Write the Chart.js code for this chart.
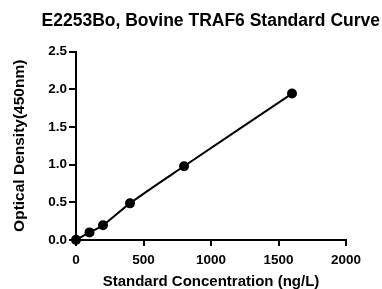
<!DOCTYPE html>
<html>
<head>
<meta charset="utf-8">
<script src="https://cdn.jsdelivr.net/npm/chart.js@4"></script>
<style>
html,body{margin:0;padding:0;background:#fff;}
#wrap{width:382px;height:289px;position:relative;}
</style>
</head>
<body>
<div id="wrap"><canvas id="c" width="382" height="289"></canvas></div>
<script>
const concentrations = [0, 100, 200, 400, 800, 1600];
const odValues = [0.002, 0.101, 0.196, 0.486, 0.978, 1.942];
const xTicks = [0, 500, 1000, 1500, 2000];
const yTicks = [0.0, 0.5, 1.0, 1.5, 2.0, 2.5];
const chartTitle = 'E2253Bo, Bovine TRAF6 Standard Curve';
const xTitle = 'Standard Concentration (ng/L)';
const yTitle = 'Optical Density(450nm)';

const FONT = '"Liberation Sans", Arial, sans-serif';
const points = concentrations.map((x, i) => ({x, y: odValues[i]}));

new Chart(document.getElementById('c'), {
  type: 'scatter',
  data: {
    datasets: [{
      data: points,
      showLine: true,
      borderColor: '#000',
      backgroundColor: '#000',
      borderWidth: 2,
      pointRadius: 4,
      pointHoverRadius: 4,
      tension: 0.3,
      clip: false,
      yAxisID: 'y'
    }]
  },
  options: {
    responsive: false,
    animation: false,
    events: [],
    layout: {padding: {left: 0, right: 2, top: 0, bottom: 0}},
    plugins: {
      legend: {display: false},
      tooltip: {enabled: false},
      title: {
        display: true,
        text: chartTitle,
        align: 'end',
        color: '#000',
        font: {family: FONT, size: 17.5, weight: 'bold'},
        padding: {top: 11, bottom: 19.5}
      }
    },
    scales: {
      x: {
        type: 'linear',
        min: 0, max: 2000,
        afterBuildTicks: s => { s.ticks = xTicks.map(v => ({value: v})); },
        afterFit: s => { s.height = 49; },
        border: {display: true, color: '#000', width: 2},
        grid: {drawOnChartArea: false, drawTicks: true, tickLength: 6, color: '#000', lineWidth: 2},
        ticks: {color: '#000', font: {family: FONT, size: 13.5, weight: 'bold'}, padding: 6, maxRotation: 0, callback: v => String(v)},
        title: {display: true, text: xTitle, color: '#000', font: {family: FONT, size: 15, weight: 'bold'}, padding: {top: 0, bottom: -2}}
      },
      y: {
        type: 'linear',
        position: 'left',
        min: 0, max: 2.5,
        afterBuildTicks: s => { s.ticks = yTicks.map(v => ({value: v})); },
        afterFit: s => { s.width = 76; },
        border: {display: true, color: '#000', width: 2},
        grid: {drawOnChartArea: false, drawTicks: true, tickLength: 7, color: '#000', lineWidth: 2},
        ticks: {color: '#000', font: {family: FONT, size: 13.5, weight: 'bold'}, padding: 2, callback: v => Number(v).toFixed(1)},
        title: {display: true, text: yTitle, color: '#000', font: {family: FONT, size: 15.5, weight: 'bold'}, padding: {top: 10, bottom: 0}}
      },
      yRightSpacer: {
        type: 'linear',
        position: 'right',
        min: 0, max: 2.5,
        display: true,
        afterFit: s => { s.width = 34; },
        border: {display: false},
        grid: {display: false, drawTicks: false},
        ticks: {display: false},
        title: {display: false}
      }
    }
  }
});
</script>
</body>
</html>
